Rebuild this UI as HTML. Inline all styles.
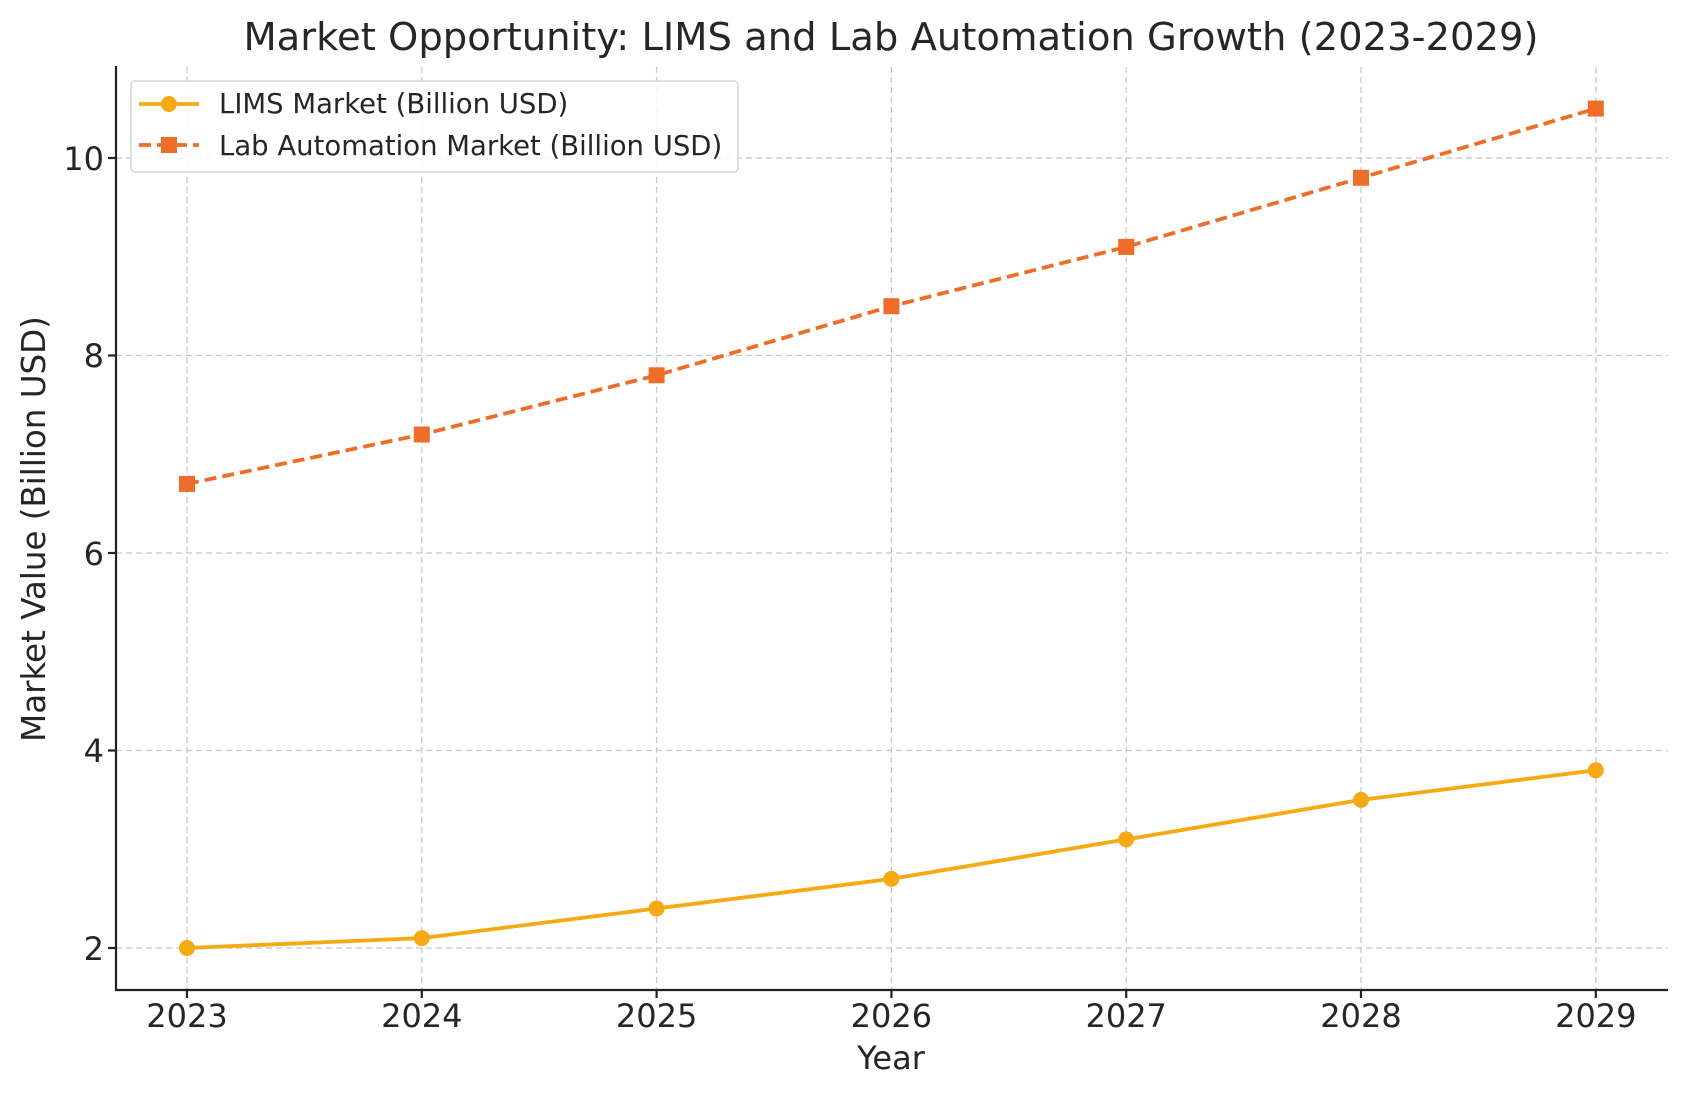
<!DOCTYPE html>
<html><head><meta charset="utf-8"><style>
html,body{margin:0;padding:0;background:#fff;}
svg text{font-family:"DejaVu Sans","Liberation Sans",sans-serif;fill:#262626;}
</style></head><body>
<svg width="1686" height="1097" viewBox="0 0 1686 1097" xmlns="http://www.w3.org/2000/svg">
<rect width="1686" height="1097" fill="#fff"/>
<text x="891" y="50" font-size="38.5" text-anchor="middle" fill="#333">Market Opportunity: LIMS and Lab Automation Growth (2023-2029)</text>
<g stroke="#c8c8c8" stroke-width="1.3" stroke-dasharray="6,4" fill="none">
<line x1="187" y1="67" x2="187" y2="990"/>
<line x1="421.8" y1="67" x2="421.8" y2="990"/>
<line x1="656.6" y1="67" x2="656.6" y2="990"/>
<line x1="891.4" y1="67" x2="891.4" y2="990"/>
<line x1="1126.2" y1="67" x2="1126.2" y2="990"/>
<line x1="1361" y1="67" x2="1361" y2="990"/>
<line x1="1595.8" y1="67" x2="1595.8" y2="990"/>
<line x1="116" y1="948" x2="1668" y2="948"/>
<line x1="116" y1="750.5" x2="1668" y2="750.5"/>
<line x1="116" y1="553" x2="1668" y2="553"/>
<line x1="116" y1="355.5" x2="1668" y2="355.5"/>
<line x1="116" y1="158" x2="1668" y2="158"/>
</g>
<g stroke="#222" stroke-width="2.2">
<line x1="116" y1="66" x2="116" y2="991"/>
<line x1="115" y1="990" x2="1668" y2="990"/>
<line x1="108" y1="948" x2="116" y2="948"/>
<line x1="108" y1="750.5" x2="116" y2="750.5"/>
<line x1="108" y1="553" x2="116" y2="553"/>
<line x1="108" y1="355.5" x2="116" y2="355.5"/>
<line x1="108" y1="158" x2="116" y2="158"/>
<line x1="187" y1="990" x2="187" y2="998"/>
<line x1="421.8" y1="990" x2="421.8" y2="998"/>
<line x1="656.6" y1="990" x2="656.6" y2="998"/>
<line x1="891.4" y1="990" x2="891.4" y2="998"/>
<line x1="1126.2" y1="990" x2="1126.2" y2="998"/>
<line x1="1361" y1="990" x2="1361" y2="998"/>
<line x1="1595.8" y1="990" x2="1595.8" y2="998"/>
</g>
<g font-size="32" text-anchor="end">
<text x="104" y="960">2</text>
<text x="104" y="762">4</text>
<text x="104" y="565">6</text>
<text x="104" y="367">8</text>
<text x="104" y="170">10</text>
</g>
<g font-size="32" text-anchor="middle">
<text x="187" y="1027">2023</text>
<text x="421.8" y="1027">2024</text>
<text x="656.6" y="1027">2025</text>
<text x="891.4" y="1027">2026</text>
<text x="1126.2" y="1027">2027</text>
<text x="1361" y="1027">2028</text>
<text x="1595.8" y="1027">2029</text>
</g>
<text x="891" y="1069" font-size="32" text-anchor="middle">Year</text>
<text transform="translate(45,529) rotate(-90)" font-size="32.5" text-anchor="middle">Market Value (Billion USD)</text>
<polyline fill="none" stroke="#F5A912" stroke-width="3.8" points="187,948 421.8,938.1 656.6,908.5 891.4,878.9 1126.2,839.4 1361,799.9 1595.8,770.3"/>
<g fill="#F5A912">
<circle cx="187" cy="948" r="8"/><circle cx="421.8" cy="938.1" r="8"/><circle cx="656.6" cy="908.5" r="8"/><circle cx="891.4" cy="878.9" r="8"/><circle cx="1126.2" cy="839.4" r="8"/><circle cx="1361" cy="799.9" r="8"/><circle cx="1595.8" cy="770.3" r="8"/>
</g>
<polyline fill="none" stroke="#EE6D28" stroke-width="3.8" stroke-dasharray="12,6" points="187,483.9 421.8,434.5 656.6,375.3 891.4,306.2 1126.2,246.9 1361,177.8 1595.8,108.6"/>
<g fill="#EE6D28">
<rect x="179" y="475.9" width="16" height="16"/><rect x="413.8" y="426.5" width="16" height="16"/><rect x="648.6" y="367.3" width="16" height="16"/><rect x="883.4" y="298.2" width="16" height="16"/><rect x="1118.2" y="238.9" width="16" height="16"/><rect x="1353" y="169.8" width="16" height="16"/><rect x="1587.8" y="100.6" width="16" height="16"/>
</g>
<rect x="131" y="81" width="607" height="91" rx="4" fill="#fff" fill-opacity="0.85" stroke="#d6d6d6" stroke-width="1.5"/>
<line x1="139" y1="104" x2="199" y2="104" stroke="#F5A912" stroke-width="3.8"/>
<circle cx="169" cy="104" r="8" fill="#F5A912"/>
<line x1="139" y1="145" x2="199" y2="145" stroke="#EE6D28" stroke-width="3.8" stroke-dasharray="12,6"/>
<rect x="161" y="137" width="16" height="16" fill="#EE6D28"/>
<text x="219" y="113" font-size="27.5" fill="#333">LIMS Market (Billion USD)</text>
<text x="219" y="155" font-size="27.5" fill="#333">Lab Automation Market (Billion USD)</text>
</svg>
</body></html>
